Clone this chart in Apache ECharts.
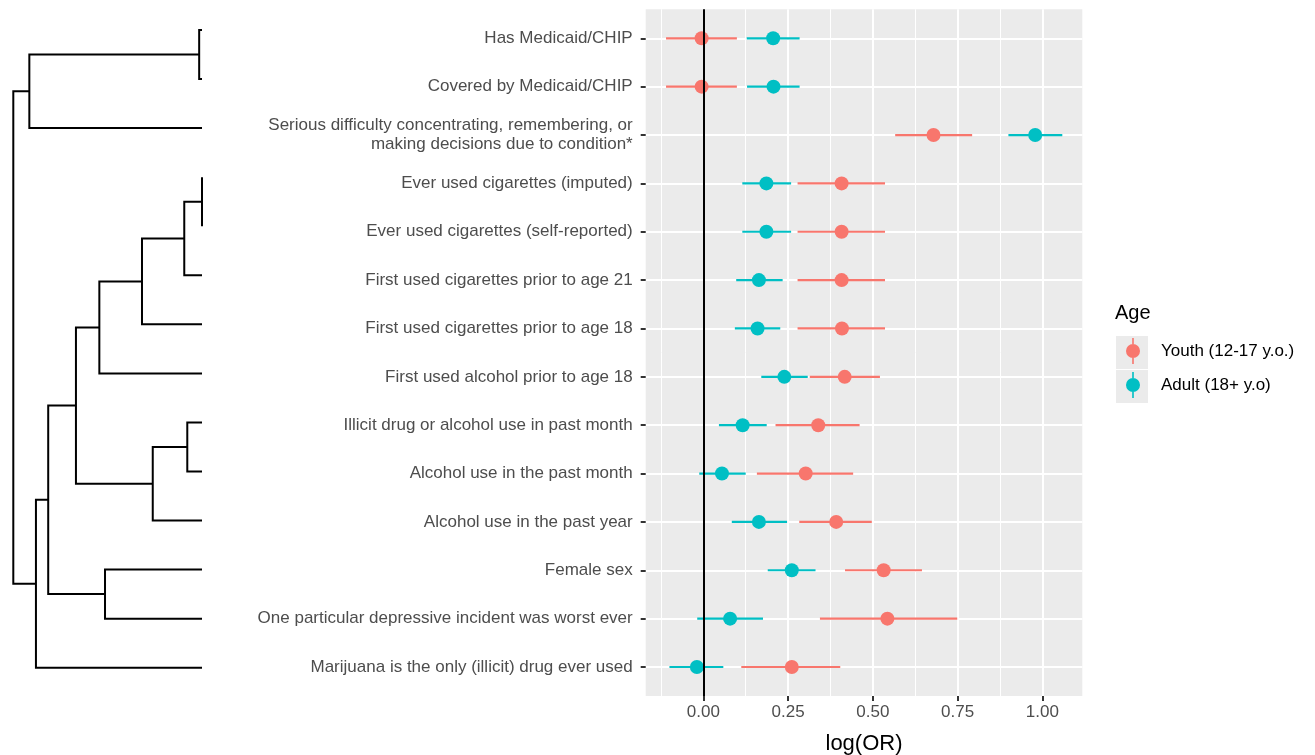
<!DOCTYPE html>
<html>
<head>
<meta charset="utf-8">
<script src="https://cdn.jsdelivr.net/npm/echarts@6/dist/echarts.min.js"></script>
<style>
  html, body { margin: 0; padding: 0; background: #ffffff; }
  #chart { width: 1315px; height: 755px; }
</style>
</head>
<body>
<div id="chart"></div>
<script>
// ---------- data ----------
const categories = [
  'Has Medicaid/CHIP',
  'Covered by Medicaid/CHIP',
  'Serious difficulty concentrating, remembering, or\nmaking decisions due to condition*',
  'Ever used cigarettes (imputed)',
  'Ever used cigarettes (self-reported)',
  'First used cigarettes prior to age 21',
  'First used cigarettes prior to age 18',
  'First used alcohol prior to age 18',
  'Illicit drug or alcohol use in past month',
  'Alcohol use in the past month',
  'Alcohol use in the past year',
  'Female sex',
  'One particular depressive incident was worst ever',
  'Marijuana is the only (illicit) drug ever used'
];
const youthEst = [-0.005, -0.005, 0.679, 0.408, 0.408, 0.408, 0.409, 0.417, 0.339, 0.302, 0.392, 0.532, 0.543, 0.261];
const youthLo  = [-0.110, -0.110, 0.566, 0.278, 0.278, 0.278, 0.278, 0.314, 0.213, 0.158, 0.283, 0.418, 0.344, 0.112];
const youthHi  = [ 0.099,  0.099, 0.793, 0.536, 0.536, 0.536, 0.536, 0.521, 0.461, 0.442, 0.497, 0.645, 0.749, 0.404];
const adultEst = [0.206, 0.207, 0.979, 0.186, 0.186, 0.164, 0.160, 0.239, 0.116, 0.055, 0.164, 0.261, 0.079, -0.019];
const adultLo  = [0.128, 0.129, 0.900, 0.115, 0.115, 0.097, 0.093, 0.171, 0.046, -0.012, 0.084, 0.190, -0.018, -0.100];
const adultHi  = [0.284, 0.284, 1.059, 0.259, 0.259, 0.234, 0.227, 0.308, 0.187, 0.125, 0.247, 0.331, 0.176, 0.059];
const xTicks = [0, 0.25, 0.5, 0.75, 1.0];
const xMinorTicks = [-0.125, 0.125, 0.375, 0.625, 0.875];
const seriesNames = ['Youth (12-17 y.o.)', 'Adult (18+ y.o)'];
const refLine = 0;

// dendrogram (hclust style merge: negative = leaf row, positive = earlier step)
const dendroMerge = [
  [-4, -5], [-1, -2], [-9, -10], [1, -6], [3, -11], [4, -7], [-12, -13],
  [6, -8], [8, 5], [9, 7], [10, -14], [2, -3], [12, 11]
];
const dendroHeight = [0.0, 0.015, 0.078, 0.094, 0.261, 0.318, 0.514, 0.544, 0.668, 0.815, 0.880, 0.915, 1.0];

// ---------- build ----------
const FONT = 'Liberation Sans, Arial, Helvetica, sans-serif';
const COL_Y = '#F8766D', COL_A = '#00BFC4';
const rowIdx = categories.map((c, i) => i + 1);

function rangeData(lo, hi, est) {
  return est.map((e, i) => [lo[i], hi[i], e, i + 1]);
}

// dendrogram segments
const nodeY = [], nodeH = [];
function childPos(c) {
  if (c < 0) return [0, -c];
  return [nodeH[c - 1], nodeY[c - 1]];
}
const dendroData = dendroMerge.map((m, k) => {
  const a = childPos(m[0]), b = childPos(m[1]);
  const h = dendroHeight[k];
  nodeH[k] = h;
  nodeY[k] = (a[1] + b[1]) / 2;
  return [h, a[1], a[0], b[1], b[0]];
});

const legendIcon = 'path://M6.2,0 L7.8,0 L7.8,6 L6.2,6 Z M6.2,20 L7.8,20 L7.8,26 L6.2,26 Z M0,13 A7,7 0 1,1 14,13 A7,7 0 1,1 0,13 Z';

function rangeRender(color) {
  return function (params, api) {
    const y = api.value(3);
    const p0 = api.coord([api.value(0), y]);
    const p1 = api.coord([api.value(1), y]);
    const pc = api.coord([api.value(2), y]);
    return {
      type: 'group',
      children: [
        { type: 'line', shape: { x1: p0[0], y1: p0[1], x2: p1[0], y2: p1[1] },
          style: { stroke: color, lineWidth: 2.2 } },
        { type: 'circle', shape: { cx: pc[0], cy: pc[1], r: 7 },
          style: { fill: color } }
      ]
    };
  };
}

const chart = echarts.init(document.getElementById('chart'));
chart.setOption({
  animation: false,
  backgroundColor: '#ffffff',
  title: {
    text: 'Age', left: 1115, top: 303, padding: 0,
    textStyle: { fontFamily: FONT, fontSize: 20, fontWeight: 'normal', color: '#000000' }
  },
  graphic: [
    { type: 'rect', left: 1116, top: 336, shape: { width: 32, height: 33 }, style: { fill: '#ebebeb' }, z: 0 },
    { type: 'rect', left: 1116, top: 370, shape: { width: 32, height: 33 }, style: { fill: '#ebebeb' }, z: 0 }
  ],
  legend: {
    orient: 'vertical', left: 1126, top: 338, padding: 0,
    itemWidth: 14, itemHeight: 26, itemGap: 8,
    textStyle: { fontFamily: FONT, fontSize: 17, color: '#000000', padding: [0, 0, 0, 16] },
    data: [
      { name: seriesNames[0], icon: legendIcon, itemStyle: { color: COL_Y } },
      { name: seriesNames[1], icon: legendIcon, itemStyle: { color: COL_A } }
    ],
    selectedMode: false
  },
  grid: [
    { left: 645.7, top: 9.3, width: 436.6, height: 686.7, show: true, backgroundColor: '#ebebeb', borderWidth: 0,
      containLabel: false, outerBoundsMode: 'none' },
    { left: 13.3, top: 30, width: 188.7, height: 637.7, show: false,
      containLabel: false, outerBoundsMode: 'none' }
  ],
  xAxis: [
    {
      type: 'value', gridIndex: 0, min: -0.170, max: 1.118,
      axisLine: { show: false, onZero: false },
      axisTick: { show: true, customValues: xTicks, length: 5, lineStyle: { color: '#333333', width: 2 } },
      axisLabel: { customValues: xTicks, formatter: v => v.toFixed(2), color: '#4d4d4d',
                   fontFamily: FONT, fontSize: 17, margin: 8 },
      splitLine: { show: true, lineStyle: { color: '#ffffff', width: 2 } },
      name: 'log(OR)', nameLocation: 'middle', nameGap: 37,
      nameTextStyle: { fontFamily: FONT, fontSize: 22, color: '#000000' }
    },
    {
      type: 'value', gridIndex: 0, min: -0.170, max: 1.118, position: 'top',
      axisLine: { show: false, onZero: false },
      axisTick: { show: false, customValues: xMinorTicks },
      axisLabel: { show: false, customValues: xMinorTicks },
      splitLine: { show: true, lineStyle: { color: '#ffffff', width: 1 } }
    },
    {
      type: 'value', gridIndex: 1, min: 0, max: 1, inverse: true, show: false
    }
  ],
  yAxis: [
    {
      type: 'value', gridIndex: 0, min: 0.4, max: 14.6, inverse: true,
      axisLine: { show: false, onZero: false },
      axisTick: { show: true, customValues: rowIdx, length: 5, lineStyle: { color: '#333333', width: 2 } },
      axisLabel: { customValues: rowIdx, formatter: v => categories[Math.round(v) - 1],
                   color: '#4d4d4d', fontFamily: FONT, fontSize: 17, margin: 13, lineHeight: 19 },
      splitLine: { show: true, lineStyle: { color: '#ffffff', width: 2 } }
    },
    {
      type: 'value', gridIndex: 1, min: 1, max: 14, inverse: true, show: false
    }
  ],
  series: [
    {
      name: seriesNames[0], type: 'custom', xAxisIndex: 0, yAxisIndex: 0,
      itemStyle: { color: COL_Y },
      renderItem: rangeRender(COL_Y),
      encode: { x: [0, 1, 2], y: 3 },
      data: rangeData(youthLo, youthHi, youthEst), z: 3
    },
    {
      name: seriesNames[1], type: 'custom', xAxisIndex: 0, yAxisIndex: 0,
      itemStyle: { color: COL_A },
      renderItem: rangeRender(COL_A),
      encode: { x: [0, 1, 2], y: 3 },
      data: rangeData(adultLo, adultHi, adultEst), z: 3,
      markLine: {
        silent: true, symbol: 'none', label: { show: false },
        lineStyle: { color: '#000000', width: 2, type: 'solid' },
        data: [{ xAxis: refLine }], z: 5
      }
    },
    {
      name: 'dendrogram', type: 'custom', xAxisIndex: 2, yAxisIndex: 1,
      clip: false,
      encode: { x: [0, 2, 4], y: [1, 3] },
      data: dendroData,
      renderItem: function (params, api) {
        const h = api.value(0), y1 = api.value(1), h1 = api.value(2), y2 = api.value(3), h2 = api.value(4);
        const pts = [api.coord([h1, y1]), api.coord([h, y1]), api.coord([h, y2]), api.coord([h2, y2])];
        return { type: 'polyline', shape: { points: pts },
                 style: { stroke: '#000000', lineWidth: 2, fill: null } };
      }
    }
  ]
});
</script>
</body>
</html>
